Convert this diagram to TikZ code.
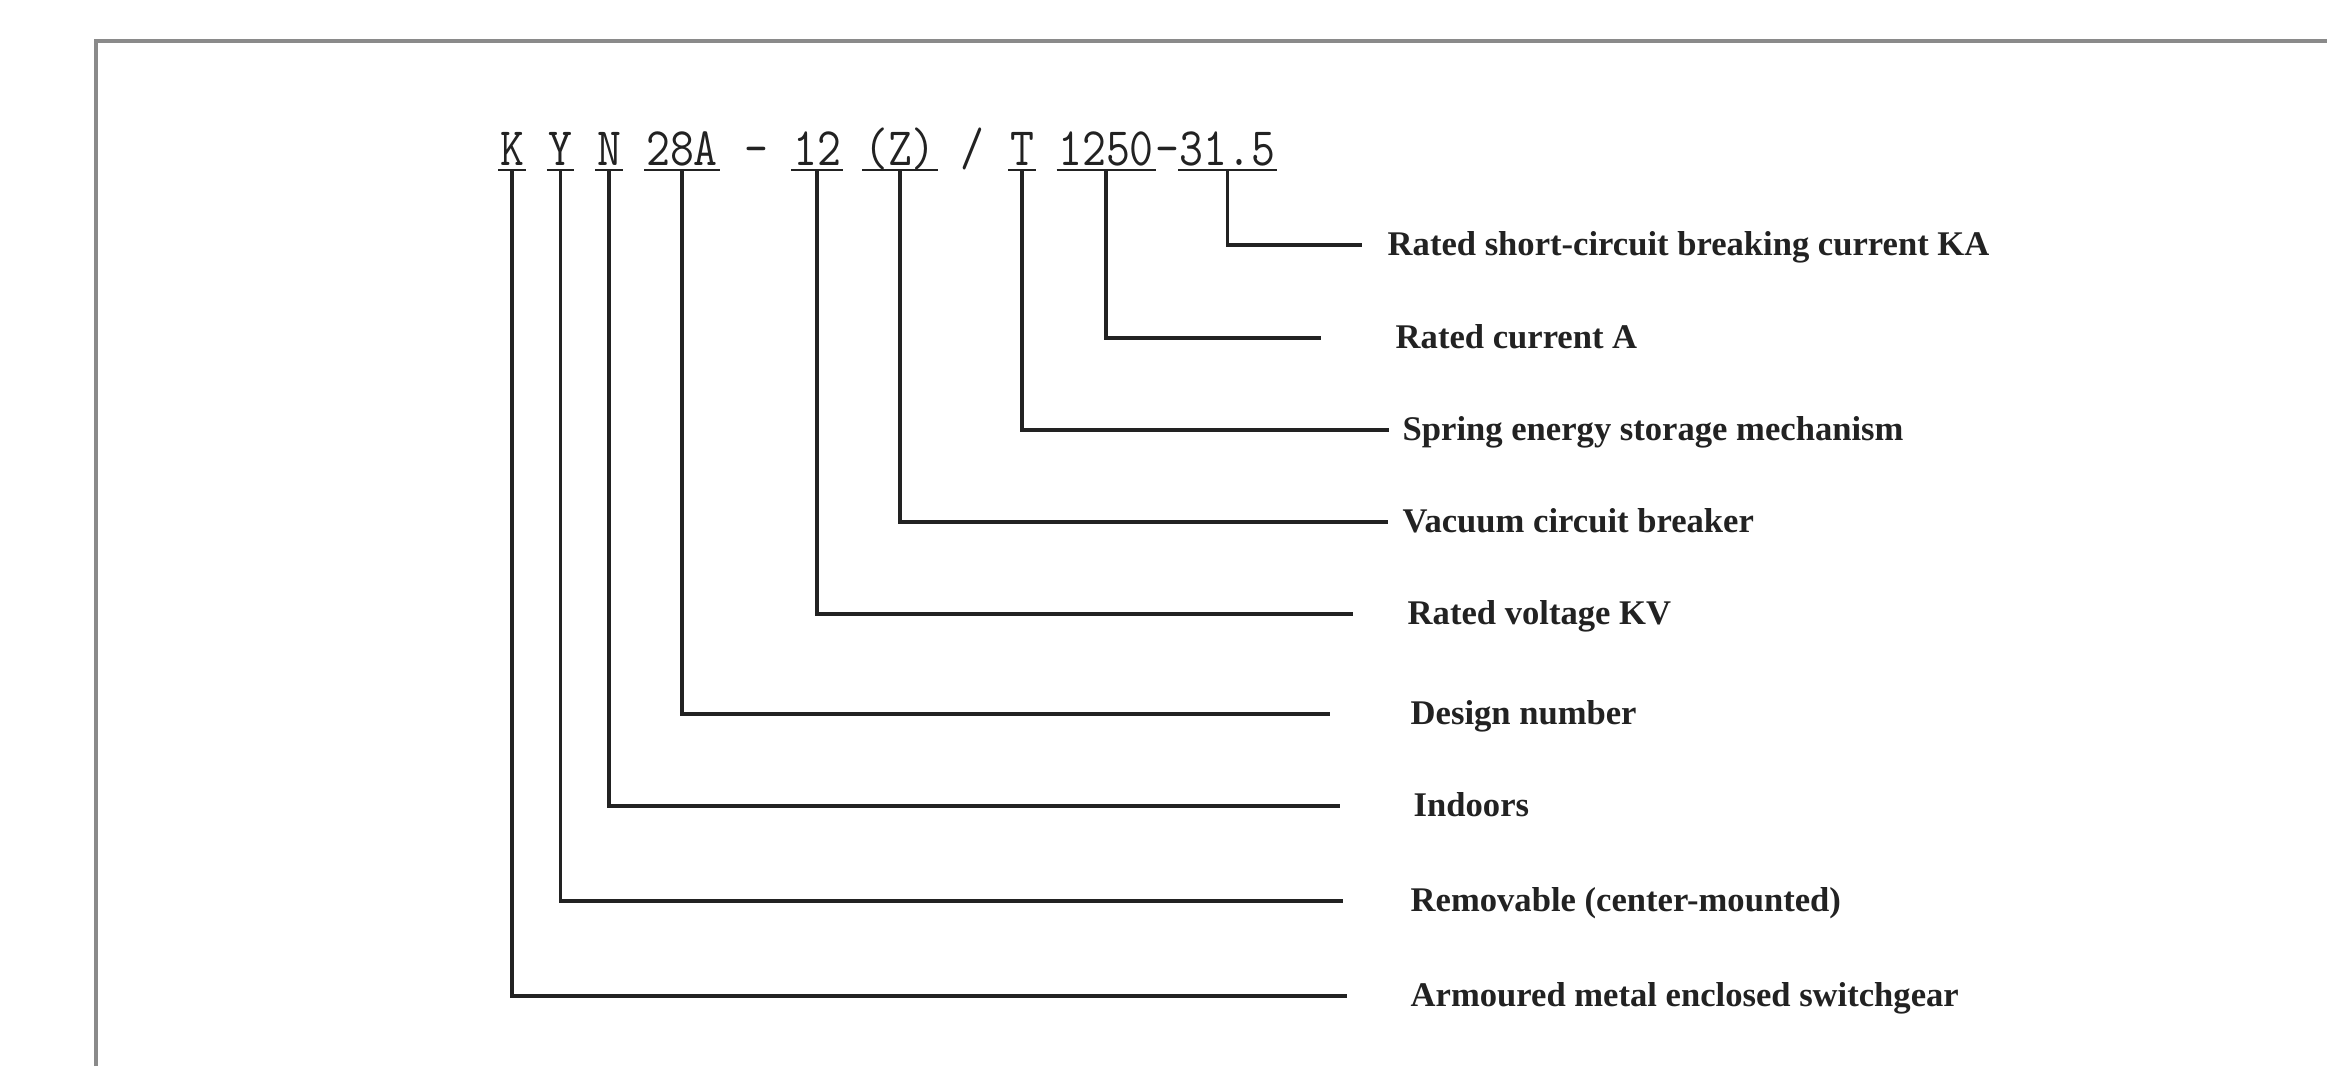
\documentclass[tikz,border=0pt]{standalone}
\usepackage{fontspec}
\setmainfont{Liberation Serif}
\newcommand{\kynsq}[1]{\scalebox{0.857}[1]{#1}}
\definecolor{inkc}{HTML}{222222}
\definecolor{framec}{HTML}{8A8A8A}
\tikzset{
  codepart/.style={anchor=base, inner sep=0pt, text=inkc, font=\fontsize{15.4pt}{18pt}\selectfont\ttfamily},
  uline/.style={draw=inkc, line width=0.75pt},
  conn/.style={draw=inkc, line width=0.95pt},
  lbl/.style={anchor=base west, inner sep=0pt, text=inkc, font=\fontsize{9.84pt}{12pt}\selectfont\bfseries},
}
\begin{document}
\begin{tikzpicture}[x=0.01cm,y=-0.01cm]
\useasboundingbox[fill=white] (0,0) rectangle (2327,1066);
% frame
\draw[framec, line width=1pt] (96,1066) -- (96,41) -- (2327,41);
% code parts
\node[codepart] (gK) at (512,165) {\kynsq{K}};
\node[codepart] (gY) at (560.5,165) {\kynsq{Y}};
\node[codepart] (gN) at (609,165) {\kynsq{N}};
\node[codepart] (g28) at (682,165) {\kynsq{28A}};
\node[codepart] (dash1) at (756,165) {\kynsq{-}};
\node[codepart] (g12) at (817,165) {\kynsq{12}};
\node[codepart] (gZ) at (900,165) {\kynsq{(Z)}};
\node[codepart] (slash) at (972,165) {\kynsq{/}};
\node[codepart] (gT) at (1022,165) {\kynsq{T}};
\node[codepart] (g1250) at (1106,165) {\kynsq{1250}};
\node[codepart] (dash2) at (1167,165) {\kynsq{-}};
\node[codepart] (g315) at (1227.5,165) {\kynsq{31.5}};
% underlines
\foreach \g in {gK,gY,gN,g28,g12,gZ,gT,g1250,g315}{
  \draw[uline] ([shift={(-1,5)}]\g.base west) -- ([shift={(1,5)}]\g.base east);
}
% line ends
\coordinate (e315) at (1362,245);
\coordinate (e1250) at (1321,338);
\coordinate (eT) at (1389,430);
\coordinate (eZ) at (1388,522);
\coordinate (e12) at (1353,614);
\coordinate (e28) at (1330,714);
\coordinate (eN) at (1340,806);
\coordinate (eY) at (1343,901);
\coordinate (eK) at (1347,996);
% labels
\node[lbl] (l315) at (1387,255) {Rated short-circuit breaking current KA};
\node[lbl] (l1250) at (1395,348) {Rated current A};
\node[lbl] (lT) at (1402,440) {Spring energy storage mechanism};
\node[lbl] (lZ) at (1402,532) {Vacuum circuit breaker};
\node[lbl] (l12) at (1407,624) {Rated voltage KV};
\node[lbl] (l28) at (1410,724) {Design number};
\node[lbl] (lN) at (1413,816) {Indoors};
\node[lbl] (lY) at (1410,911) {Removable (center-mounted)};
\node[lbl] (lK) at (1410,1006) {Armoured metal enclosed switchgear};
% connectors
\draw[conn] ([shift={(0,5)}]g315.base) |- (e315);
\draw[conn] ([shift={(0,5)}]g1250.base) |- (e1250);
\draw[conn] ([shift={(0,5)}]gT.base) |- (eT);
\draw[conn] ([shift={(0,5)}]gZ.base) |- (eZ);
\draw[conn] ([shift={(0,5)}]g12.base) |- (e12);
\draw[conn] ([shift={(0,5)}]g28.base) |- (e28);
\draw[conn] ([shift={(0,5)}]gN.base) |- (eN);
\draw[conn] ([shift={(0,5)}]gY.base) |- (eY);
\draw[conn] ([shift={(0,5)}]gK.base) |- (eK);
\end{tikzpicture}
\end{document}
